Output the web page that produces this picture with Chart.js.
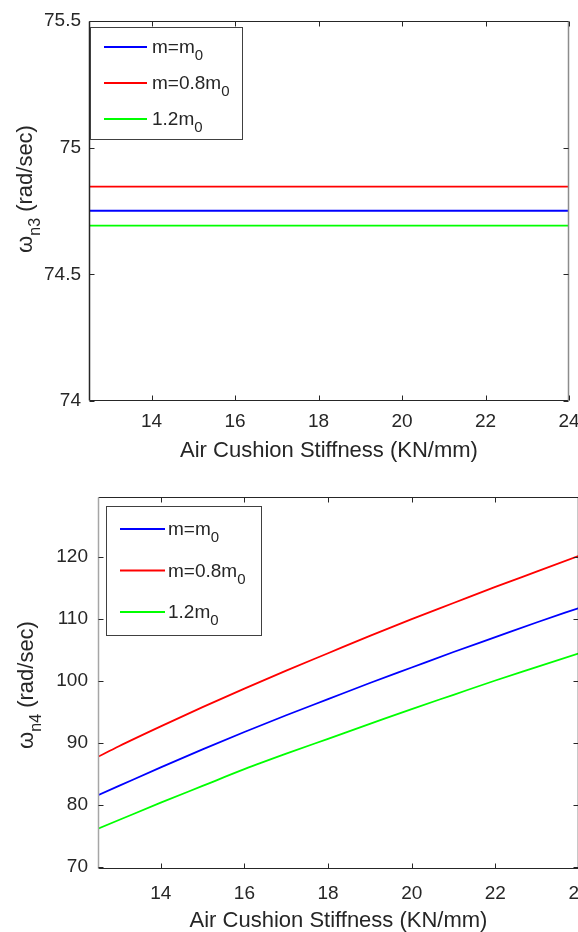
<!DOCTYPE html>
<html lang="en">
<head>
    <meta charset="UTF-8">
    <title>Natural frequency vs air cushion stiffness</title>
    <script src="https://cdn.jsdelivr.net/npm/chart.js"></script>
    <style>
        body { margin: 0; background: #fff; width: 578px; height: 932px; overflow: hidden; position: relative; }
        .panel { position: absolute; left: 0; height: 466px; }
    </style>
</head>
<body>
    <div class="panel" style="top:0; width:578px"><canvas id="chartN3"></canvas></div>
    <div class="panel" style="top:466px; width:600px"><canvas id="chartN4"></canvas></div>

    <script>
        // air cushion stiffness (KN/mm)
        const stiffness = [12.5, 13, 14, 15, 16, 17, 18, 19, 20, 21, 22, 23, 24];

        // 3rd natural frequency (flat)
        const wn3_m0   = [74.751, 74.751, 74.751, 74.751, 74.751, 74.751, 74.751, 74.751, 74.751, 74.751, 74.751, 74.751, 74.751];
        const wn3_m08  = [74.846, 74.846, 74.846, 74.846, 74.846, 74.846, 74.846, 74.846, 74.846, 74.846, 74.846, 74.846, 74.846];
        const wn3_m12  = [74.692, 74.692, 74.692, 74.692, 74.692, 74.692, 74.692, 74.692, 74.692, 74.692, 74.692, 74.692, 74.692];

        // 4th natural frequency
        const wn4_m0   = [81.5, 83.0, 86.0, 88.9, 91.7, 94.4, 97.0, 99.6, 102.1, 104.6, 107.0, 109.4, 111.7];
        const wn4_m08  = [87.7, 89.4, 92.6, 95.7, 98.7, 101.6, 104.4, 107.2, 109.9, 112.5, 115.1, 117.6, 120.1];
        const wn4_m12  = [76.1, 77.5, 80.3, 83.0, 85.7, 88.2, 90.6, 93.0, 95.4, 97.7, 100.0, 102.2, 104.4];

        const xTicks = [14, 16, 18, 20, 22, 24];
        const yTicksN3 = [74, 74.5, 75, 75.5];
        const yTicksN4 = [70, 80, 90, 100, 110, 120];

        const legendLabels = [['m=m', '0'], ['m=0.8m', '0'], ['1.2m', '0']];
        const colors = ['#0000ff', '#ff0000', '#00ff00'];

        const FONT = '"Liberation Sans", Arial, Helvetica, sans-serif';
        const INK = '#262626';

        // draws main text followed by a lowered subscript, returns end x
        function drawSub(ctx, main, sub, x, y, size, subSize, drop) {
            ctx.font = size + 'px ' + FONT;
            ctx.fillText(main, x, y);
            x += ctx.measureText(main).width;
            ctx.font = subSize + 'px ' + FONT;
            ctx.fillText(sub, x, y + drop);
            return x + ctx.measureText(sub).width;
        }

        // MATLAB style box, inward ticks, legend and axis labels
        const matlabAxes = {
            id: 'matlabAxes',
            afterDraw(chart, args, o) {
                const { ctx, chartArea: a, scales: { x, y } } = chart;
                const L = Math.round(a.left) + 0.5, R = Math.round(a.right) - 0.5;
                const T = Math.round(a.top) + 0.5, B = Math.round(a.bottom) - 0.5;
                ctx.save();
                ctx.lineWidth = 1;
                ctx.strokeStyle = INK;
                ctx.beginPath();
                ctx.moveTo(L, T); ctx.lineTo(R, T);
                ctx.moveTo(L, B); ctx.lineTo(R, B);
                ctx.stroke();
                ctx.lineWidth = 1.5;
                ctx.strokeStyle = o.leftColor;
                ctx.beginPath(); ctx.moveTo(L, T); ctx.lineTo(L, B); ctx.stroke();
                ctx.strokeStyle = o.rightColor;
                ctx.beginPath(); ctx.moveTo(R, T); ctx.lineTo(R, B); ctx.stroke();

                ctx.lineWidth = 1;
                ctx.strokeStyle = INK;
                ctx.beginPath();
                x.ticks.forEach(t => {
                    const px = Math.round(x.getPixelForValue(t.value)) + 0.5;
                    ctx.moveTo(px, B); ctx.lineTo(px, B - 5);
                    ctx.moveTo(px, T); ctx.lineTo(px, T + 5);
                });
                y.ticks.forEach(t => {
                    const py = Math.round(y.getPixelForValue(t.value)) + 0.5;
                    ctx.moveTo(L, py); ctx.lineTo(L + 5, py);
                    ctx.moveTo(R, py); ctx.lineTo(R - 5, py);
                });
                ctx.stroke();

                // legend
                const lg = o.legend;
                ctx.fillStyle = '#fff';
                ctx.fillRect(lg.x, lg.y, lg.w, lg.h);
                ctx.strokeStyle = '#404040';
                ctx.strokeRect(lg.x + 0.5, lg.y + 0.5, lg.w, lg.h);
                ctx.fillStyle = INK;
                ctx.textBaseline = 'alphabetic';
                ctx.textAlign = 'left';
                legendLabels.forEach((lab, i) => {
                    const ly = lg.y + lg.first + i * lg.gap;
                    ctx.strokeStyle = colors[i];
                    ctx.lineWidth = 1.8;
                    ctx.beginPath();
                    ctx.moveTo(lg.x + lg.lineX0, ly); ctx.lineTo(lg.x + lg.lineX1, ly);
                    ctx.stroke();
                    drawSub(ctx, lab[0], lab[1], lg.x + lg.textX, ly + 6, 19, 15, 7);
                });

                // x label
                ctx.font = '22px ' + FONT;
                ctx.textAlign = 'center';
                ctx.fillText('Air Cushion Stiffness (KN/mm)', (a.left + a.right) / 2, a.bottom + o.xTitleDrop);

                // y label with subscript, rotated
                ctx.textAlign = 'left';
                ctx.translate(o.yTitleX, o.yTitleY);
                ctx.rotate(-Math.PI / 2);
                ctx.font = '22px ' + FONT;
                const w1 = ctx.measureText('\u03c9').width;
                ctx.font = '16px ' + FONT;
                const w2 = ctx.measureText(o.ySub).width;
                ctx.font = '22px ' + FONT;
                const w3 = ctx.measureText(' (rad/sec)').width;
                let cx = -(w1 + w2 + w3) / 2;
                cx = drawSub(ctx, '\u03c9', o.ySub, cx, 0, 22, 16, 8);
                ctx.font = '22px ' + FONT;
                ctx.fillText(' (rad/sec)', cx, 0);
                ctx.restore();
            }
        };

        function makeChart(id, series, yMin, yMax, yTicks, box, frame) {
            const ctx = document.getElementById(id).getContext('2d');
            return new Chart(ctx, {
                type: 'line',
                data: {
                    labels: stiffness,
                    datasets: series.map((s, i) => ({
                        label: legendLabels[i].join(''),
                        data: stiffness.map((k, j) => ({ x: k, y: s[j] })),
                        borderColor: colors[i],
                        borderWidth: 1.8,
                        pointRadius: 0,
                        fill: false,
                        cubicInterpolationMode: 'monotone'
                    }))
                },
                options: {
                    responsive: true,
                    maintainAspectRatio: false,
                    animation: false,
                    layout: { padding: { top: box.top, right: box.right, bottom: 0, left: 0 } },
                    plugins: { legend: { display: false }, tooltip: { enabled: false }, matlabAxes: frame },
                    scales: {
                        x: {
                            type: 'linear', min: 12.5, max: 24,
                            grid: { display: false, drawTicks: false },
                            border: { display: false },
                            ticks: { font: { family: FONT, size: 19 }, color: INK, padding: box.xPad, maxRotation: 0, autoSkip: false,
                                     callback: v => String(v) },
                            afterBuildTicks: s => { s.ticks = xTicks.map(v => ({ value: v })); },
                            afterFit: s => { s.height = box.xHeight; s.paddingLeft = 0; s.paddingRight = 0; }
                        },
                        y: {
                            min: yMin, max: yMax,
                            grid: { display: false, drawTicks: false },
                            border: { display: false },
                            ticks: { font: { family: FONT, size: 19 }, color: INK, padding: box.yPad,
                                     callback: v => String(v) },
                            afterBuildTicks: s => { s.ticks = yTicks.map(v => ({ value: v })); },
                            afterFit: s => { s.width = box.left; s.paddingTop = 0; s.paddingBottom = 0; }
                        }
                    }
                },
                plugins: [matlabAxes]
            });
        }

        makeChart('chartN3', [wn3_m0, wn3_m08, wn3_m12], 74, 75.5, yTicksN3,
            { top: 21, right: 9, left: 89, xHeight: 65, yPad: 8, xPad: 9 },
            {
                leftColor: INK, rightColor: '#8c8c8c', xTitleDrop: 56, yTitleX: 32, yTitleY: 189, ySub: 'n3',
                legend: { x: 90, y: 27, w: 152, h: 112, first: 20, gap: 36, lineX0: 14, lineX1: 57, textX: 62 }
            });

        makeChart('chartN4', [wn4_m0, wn4_m08, wn4_m12], 69.6, 129.6, yTicksN4,
            { top: 31, right: 21, left: 98, xHeight: 63, yPad: 10, xPad: 13 },
            {
                leftColor: '#a6a6a6', rightColor: INK, xTitleDrop: 58, yTitleX: 33, yTitleY: 219, ySub: 'n4',
                legend: { x: 106, y: 40, w: 155, h: 129, first: 23, gap: 41.5, lineX0: 14, lineX1: 59, textX: 62 }
            });
    </script>
</body>
</html>
